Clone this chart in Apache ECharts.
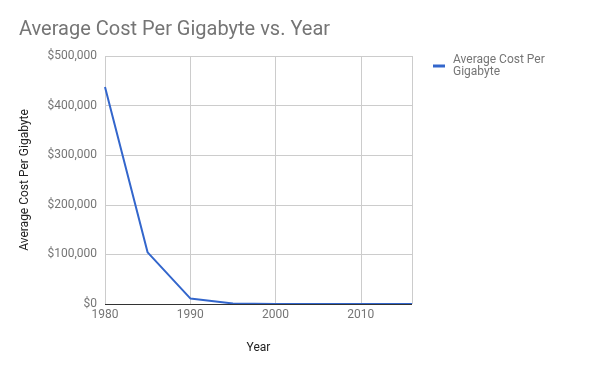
<!DOCTYPE html>
<html><head><meta charset="utf-8">
<script src="https://cdn.jsdelivr.net/npm/echarts@6/dist/echarts.min.js"></script>
<style>html,body{margin:0;padding:0;background:#fff}#c{width:600px;height:371px}</style>
</head><body><div id="c"></div>
<script>
const years = [1980, 1985, 1990, 1995, 2000, 2005, 2010, 2016];
const costs = [437500, 104000, 11200, 1120, 11, 1.24, 0.09, 0.019];
const yTicks = [0, 100000, 200000, 300000, 400000, 500000];
const xTicks = [1980, 1990, 2000, 2010];

const chart = echarts.init(document.getElementById('c'));
const font = 'Roboto, "Noto Sans", Arial, sans-serif';
chart.setOption({
  animation: false,
  textStyle: {fontFamily: font},
  title: {text: 'Average Cost Per Gigabyte vs. Year', left: 14, top: 15,
    textStyle: {fontSize: 20, fontWeight: 'normal', color: '#757575', fontFamily: font}},
  legend: {left: 428, top: 49, orient: 'vertical', icon: 'rect', itemWidth: 12, itemHeight: 3,
    itemGap: 4, textStyle: {fontSize: 12, color: '#757575', lineHeight: 12, padding: [0, 0, 0, 3], fontFamily: font},
    data: [{name: 'Average Cost Per\nGigabyte'}]},
  grid: {left: 105, right: 188, top: 56, bottom: 67, containLabel: false},
  xAxis: {type: 'value', min: years[0], max: years[years.length - 1], interval: 10,
    name: 'Year', nameLocation: 'middle', nameGap: 38,
    nameTextStyle: {fontSize: 12, color: '#222', fontFamily: font},
    axisLine: {show: false}, axisTick: {show: false},
    axisLabel: {color: '#757575', fontSize: 12, margin: 5, fontFamily: font,
      showMaxLabel: false, formatter: v => xTicks.includes(v) ? String(v) : ''},
    splitLine: {show: true, lineStyle: {color: '#cccccc', width: 1}}},
  yAxis: {type: 'value', min: yTicks[0], max: yTicks[yTicks.length - 1], interval: 100000,
    name: 'Average Cost Per Gigabyte', nameLocation: 'middle', nameGap: 74,
    nameTextStyle: {fontSize: 12, color: '#222', fontFamily: font},
    axisLine: {show: false}, axisTick: {show: false},
    axisLabel: {color: '#757575', fontSize: 12, margin: 8, fontFamily: font,
      formatter: v => '$' + v.toLocaleString('en-US')},
    splitLine: {show: true, lineStyle: {color: '#cccccc', width: 1}}},
  series: [{name: 'Average Cost Per\nGigabyte', type: 'line', showSymbol: false, symbol: 'none',
    data: years.map((y, i) => [y, costs[i]]),
    lineStyle: {color: '#3366cc', width: 2}, itemStyle: {color: '#3366cc'},
    markLine: {silent: true, symbol: 'none', label: {show: false},
      lineStyle: {color: '#333333', width: 1, type: 'solid'}, data: [{yAxis: 0}]},
    z: 3}]
});
</script></body></html>
